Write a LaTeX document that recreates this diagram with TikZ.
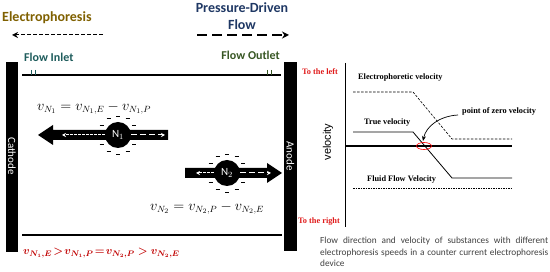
\documentclass[tikz,border=0pt]{standalone}
\usepackage{fontspec}
\usepackage{bm}
\setmainfont{Carlito}
\newfontfamily\timesf{Liberation Serif}
\newfontfamily\arialf{Liberation Sans}
\usetikzlibrary{arrows.meta,calc}
\hyphenpenalty=10000
\exhyphenpenalty=10000
\definecolor{ephcol}{HTML}{7F6000}
\definecolor{pdcol}{HTML}{1F3864}
\definecolor{inletcol}{HTML}{1E5C5C}
\definecolor{outletcol}{HTML}{375623}
\definecolor{redeq}{HTML}{C00000}
\definecolor{redlbl}{HTML}{E01B1B}
\definecolor{captcol}{HTML}{404040}
\begin{document}
\begin{tikzpicture}[x=1pt,y=-1pt,
  title/.style={font=\fontsize{14}{17}\selectfont\bfseries, inner sep=0pt},
  port/.style={font=\fontsize{12}{14}\selectfont\bfseries, inner sep=0pt},
  electrode/.style={fill=black, draw=none},
  electext/.style={text=white, font=\fontsize{11}{12}\selectfont, rotate=-90, inner sep=0pt},
  wall/.style={line width=1.2pt},
  eqn/.style={font=\fontsize{13.5}{15}\selectfont, inner sep=0pt},
  particle/.style={circle, fill=black, minimum size=26pt, inner sep=0pt, text=white, font=\fontsize{11}{12}\selectfont},
  bigarrow/.style={fill=black, draw=none},
  finedash/.style={white, line width=1pt, dash pattern=on 2.5pt off 1.5pt, -{Stealth[length=4pt,width=4pt]}},
  coarsedash/.style={white, line width=1pt, dash pattern=on 6pt off 3pt, -{Stealth[length=4pt,width=4pt]}},
  minus/.style={line width=0.8pt},
  rlbl/.style={font=\timesf\fontsize{8.3}{9}\selectfont\bfseries, inner sep=0pt},
  redlabel/.style={rlbl, text=redlbl},
  axis/.style={line width=1.3pt},
]
\useasboundingbox (0,0) rectangle (550,272);

% ---------- titles ----------
\node[title, text=ephcol, anchor=west] (eph) at (2,18) {Electrophoresis};
\coordinate (ephA) at (103,35);
\coordinate (ephB) at (12,35);
\draw[line width=1pt, dash pattern=on 4pt off 2pt, -{Stealth[length=6pt,width=6pt,open]}] (ephA) -- (ephB);

\node[title, text=pdcol, align=center] (pdf) at (242,16.5) {Pressure-Driven\\Flow};
\coordinate (pdA) at (197,35);
\coordinate (pdB) at (289,35);
\draw[line width=1.6pt, dash pattern=on 10pt off 5pt, -{Stealth[length=7pt,width=7pt]}] (pdA) -- (pdB);

\node[port, text=inletcol, anchor=west] (inlet) at (24,57) {Flow Inlet};
\node[port, text=outletcol, anchor=east] (outlet) at (280,55) {Flow Outlet};

% ---------- channel ----------
\draw[electrode] (6,62) rectangle (18,252);
\node[electext] (cathode) at (12,156) {Cathode};
\draw[electrode] (284,62) rectangle (297,251);
\node[electext] (anode) at (290.5,156) {Anode};

\coordinate (topL) at (22,75);
\coordinate (topR) at (281,75);
\draw[wall] (topL) -- (topR);
\coordinate (botL) at (22,235);
\coordinate (botR) at (282,235);
\draw[wall] (botL) -- (botR);

% inlet / outlet marks
\draw[inletcol, line width=0.8pt] (31,70) -- (31,75) (35.5,70) -- (35.5,75);
\draw[outletcol, line width=0.8pt] (267,70) -- (267,75) (271.5,70) -- (271.5,75);

% ---------- equations ----------
\node[eqn, anchor=west] (eq1) at (37,108) {$v_{N_1} = v_{N_1,E} - v_{N_1,P}$};
\node[eqn, anchor=west] (eq2) at (150,208) {$v_{N_2} = v_{N_2,P} - v_{N_2,E}$};
\node[eqn, anchor=west, text=redeq, font=\fontsize{11}{13}\selectfont] (ineq) at (23,253)
  {$\bm{v_{N_1,E}\!>\! v_{N_1,P}\!=\! v_{N_2,P} > v_{N_2,E}}$};

% ---------- particle N1 ----------
\fill[bigarrow] (168,130) -- (53,130) -- (53,125) -- (38,135) -- (53,145) -- (53,140) -- (168,140) -- cycle;
\node[particle] (n1) at (118,135) {N$_1$};
\coordinate (n1L) at (62,135);
\coordinate (n1R) at (165,135);
\draw[finedash] (n1.west) -- (n1L);
\draw[coarsedash] (n1.east) -- (n1R);
\foreach \a in {30,60,90,120,150,210,240,270,300,330}
  \draw[minus] ($(n1)+(\a:19)+(-2,0)$) -- ++(4,0);

% ---------- particle N2 ----------
\fill[bigarrow] (185,168) -- (267,168) -- (267,163) -- (282,173) -- (267,183) -- (267,178) -- (185,178) -- cycle;
\node[particle] (n2) at (227,173) {N$_2$};
\coordinate (n2L) at (196,173);
\coordinate (n2R) at (271,173);
\draw[finedash] (n2.west) -- (n2L);
\draw[coarsedash] (n2.east) -- (n2R);
\foreach \a in {30,60,90,120,150,210,240,270,300,330}
  \draw[minus] ($(n2)+(\a:19)+(-2,0)$) -- ++(4,0);

% ---------- right panel ----------
\node[redlabel, anchor=west] (tleft) at (302,72) {To the left};
\node[redlabel, anchor=west] (tright) at (298,222) {To the right};
\coordinate (axT) at (345,63);
\coordinate (axB) at (345,227);
\draw[line width=1pt] (axT) -- (axB);
\coordinate (hxL) at (345,146);
\coordinate (hxR) at (512,146);
\draw[axis] (hxL) -- (hxR);
\node[font=\arialf\fontsize{11}{12}\selectfont, rotate=90, inner sep=0pt] (vel) at (328,142) {velocity};

\node[rlbl, anchor=west] (elab) at (358,78) {Electrophoretic velocity};
\draw[line width=0.6pt, dash pattern=on 2.5pt off 1.5pt] (353,92) -- (413,92) -- (452,139) -- (512,139);

\node[rlbl, anchor=west] (tlab) at (364,123) {True velocity};
\draw[line width=0.8pt] (353,132) -- (413,132) -- (452,178) -- (512,178);

\node[rlbl, anchor=west] (flab) at (367,180) {Fluid Flow Velocity};
\draw[line width=0.7pt, dash pattern=on 1.5pt off 1pt] (353,188) -- (512,188);

\node[rlbl, anchor=west] (pz) at (462,111) {point of zero velocity};
\draw[red, line width=0.6pt] (424,146) ellipse (7.5 and 3.5);
\coordinate (zero) at (423,141);
\coordinate (pzs) at (458,115);
\draw[line width=0.7pt, -{Stealth[length=5pt,width=4pt]}] (pzs) .. controls (440,116) and (426,126) .. (zero);

% ---------- caption ----------
\node[anchor=north west, text width=228pt, align=justify, inner sep=0pt, text=captcol,
  font=\fontsize{9.3}{11.5}\selectfont] (cap) at (320,237)
  {Flow direction and velocity of substances with different electrophoresis speeds in a counter current electrophoresis device};
\end{tikzpicture}
\end{document}
